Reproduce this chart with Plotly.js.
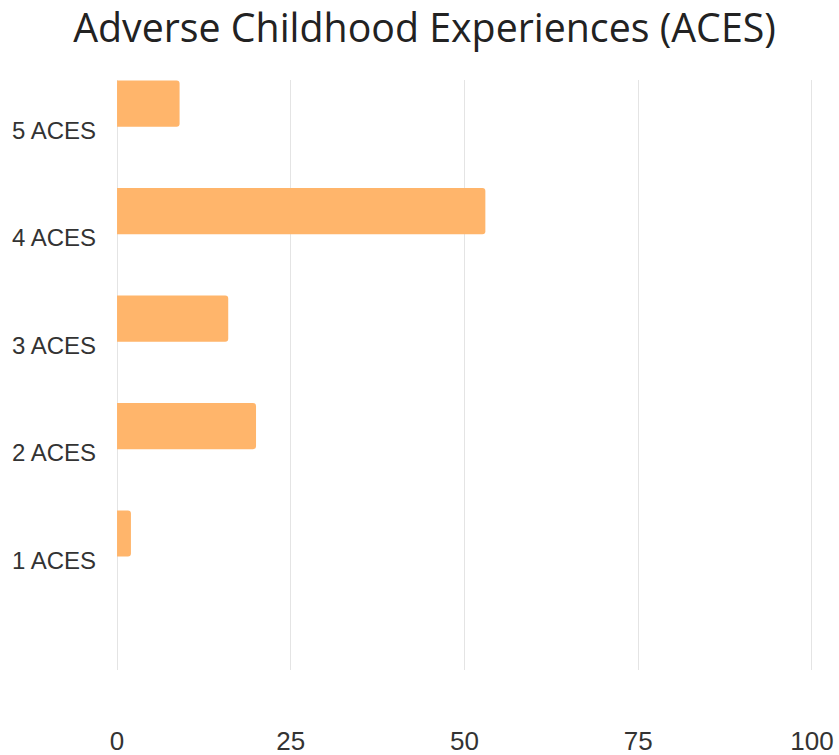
<!DOCTYPE html>
<html><head><meta charset="utf-8">
<script src="https://cdn.plot.ly/plotly-3.0.1.min.js"></script>
<style>html,body{margin:0;padding:0;background:#fff}#c{width:839px;height:755px}</style>
</head><body><div id="c"></div>
<script>
const categories = ["1 ACES", "2 ACES", "3 ACES", "4 ACES", "5 ACES"];
const values = [2, 20, 16, 53, 9];
const xTicks = [0, 25, 50, 75, 100];

Plotly.newPlot('c', [{
  type: 'bar', orientation: 'h',
  y: categories, x: values,
  width: 0.43, offset: 0.035,
  marker: {color: '#FFB56B', cornerradius: 3},
  hoverinfo: 'x+y'
}], {
  width: 839, height: 755,
  margin: {l: 116, r: 26, t: 80, b: 85},
  paper_bgcolor: '#fff', plot_bgcolor: '#fff',
  showlegend: false,
  title: {text: 'Adverse Childhood Experiences (ACES)', x: 0.506, xanchor: 'center', y: 0.962, yanchor: 'middle',
          font: {family: 'Open Sans, sans-serif', size: 39.3, color: '#222'}},
  xaxis: {range: [-0.15, 100.15], tickvals: xTicks, ticktext: xTicks.map(String),
          showgrid: true, gridcolor: '#e4e4e4', gridwidth: 1, zeroline: false, showline: false,
          ticks: '', ticklabelstandoff: 53,
          tickfont: {family: 'Liberation Sans, Arial, sans-serif', size: 26, color: '#333'}},
  yaxis: {type: 'category', categoryorder: 'array', categoryarray: categories,
          range: [-1.02, 4.47], showgrid: false, zeroline: false, showline: false,
          ticks: '', ticklabelstandoff: 19,
          tickfont: {family: 'Liberation Sans, Arial, sans-serif', size: 24, color: '#333'}}
}, {displayModeBar: false, staticPlot: true});
</script></body></html>
